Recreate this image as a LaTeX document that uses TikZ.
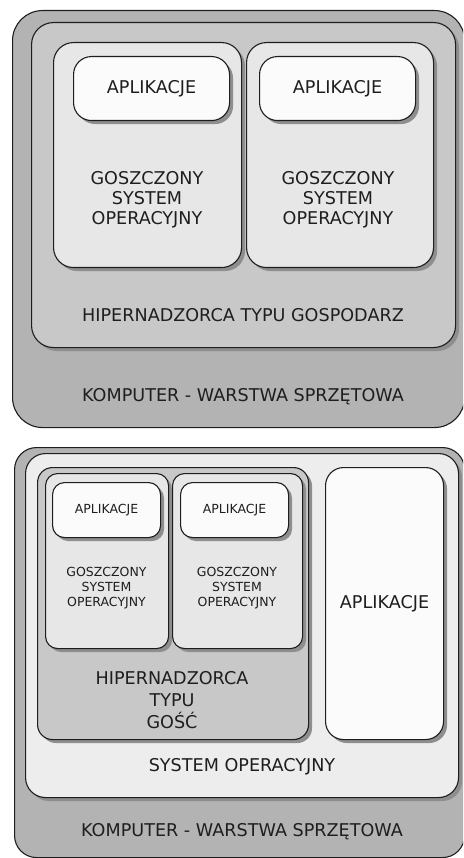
\documentclass[tikz,border=0pt]{standalone}
\usepackage{fontspec}
\setmainfont{DejaVu Sans}
\usetikzlibrary{shadows}

\definecolor{hwgray}{HTML}{B3B3B3}
\definecolor{hvgray}{HTML}{C8C8C8}
\definecolor{osgray}{HTML}{E7E7E7}
\definecolor{sogray}{HTML}{EDEDED}
\definecolor{appwhite}{HTML}{FBFBFB}
\definecolor{shadowgray}{HTML}{8E8E8E}
\definecolor{linegray}{HTML}{1E1E1E}

\begin{document}
\begin{tikzpicture}[x=1pt,y=-1pt,
  box/.style={draw=linegray,line width=1.1pt,inner sep=0pt,anchor=north west},
  shbox/.style={box,drop shadow={shadow xshift=3.5pt,shadow yshift=-3.5pt,fill=shadowgray,opacity=1}},
  big/.style={text=linegray,align=center,font=\fontsize{17.6}{20}\selectfont},
  small/.style={text=linegray,align=center,font=\fontsize{12.5}{15}\selectfont}]
	\useasboundingbox (0,0) rectangle (463,858);
	\clip (0,0) rectangle (463,858);
    % hosted hypervisor
	\node[box,fill=hwgray,rounded corners=30pt,minimum width=452pt,minimum height=417pt] (komp1) at (12,10) {};
	\node[shbox,fill=hvgray,rounded corners=22pt,minimum width=424pt,minimum height=325pt] (hiper1) at (31,22) {};
	\node[shbox,fill=osgray,rounded corners=20pt,minimum width=188pt,minimum height=225pt] (gos1a) at (53,42) {};
	\node[shbox,fill=osgray,rounded corners=20pt,minimum width=187pt,minimum height=225pt] (gos1b) at (246,42) {};
	\node[shbox,fill=appwhite,rounded corners=18pt,minimum width=156pt,minimum height=64pt,big] (apl1a) at (73,56) {APLIKACJE};
	\node[shbox,fill=appwhite,rounded corners=18pt,minimum width=156pt,minimum height=64pt,big] (apl1b) at (259,56) {APLIKACJE};
    \node[big] (t-gos1a) at (147,200) {GOSZCZONY\\SYSTEM\\OPERACYJNY};
    \node[big] (t-gos1b) at (338,200) {GOSZCZONY\\SYSTEM\\OPERACYJNY};
    \node[big] (t-hiper1) at (243,315) {HIPERNADZORCA TYPU GOSPODARZ};
    \node[big] (t-komp1) at (243,397) {KOMPUTER - WARSTWA SPRZĘTOWA};
    % guest hypervisor
	\node[box,fill=hwgray,rounded corners=22pt,minimum width=450pt,minimum height=410pt] (komp2) at (14,447) {};
	\node[shbox,fill=sogray,rounded corners=20pt,minimum width=433pt,minimum height=344pt] (so2) at (25,453) {};
	\node[shbox,fill=hvgray,rounded corners=15pt,minimum width=271pt,minimum height=272pt] (hiper2) at (37,467) {};
	\node[shbox,fill=osgray,rounded corners=12pt,minimum width=123pt,minimum height=175pt] (gos2a) at (45,473) {};
	\node[shbox,fill=osgray,rounded corners=12pt,minimum width=130pt,minimum height=175pt] (gos2b) at (172,473) {};
	\node[shbox,fill=appwhite,rounded corners=12pt,minimum width=108pt,minimum height=55pt,small] (apl2a) at (52,482) {APLIKACJE};
	\node[shbox,fill=appwhite,rounded corners=12pt,minimum width=108pt,minimum height=55pt,small] (apl2b) at (180,482) {APLIKACJE};
	\node[shbox,fill=appwhite,rounded corners=18pt,minimum width=118pt,minimum height=272pt,big] (apl2c) at (325,467) {APLIKACJE};
    \node[small] (t-gos2a) at (106.5,588) {GOSZCZONY\\SYSTEM\\OPERACYJNY};
    \node[small] (t-gos2b) at (237,588) {GOSZCZONY\\SYSTEM\\OPERACYJNY};
    \node[big,font=\fontsize{17.6}{22}\selectfont] (t-hiper2) at (172,700) {HIPERNADZORCA\\TYPU\\GOŚĆ};
    \node[big] (t-so2) at (242,767) {SYSTEM OPERACYJNY};
    \node[big] (t-komp2) at (242,832) {KOMPUTER - WARSTWA SPRZĘTOWA};
\end{tikzpicture}
\end{document}
